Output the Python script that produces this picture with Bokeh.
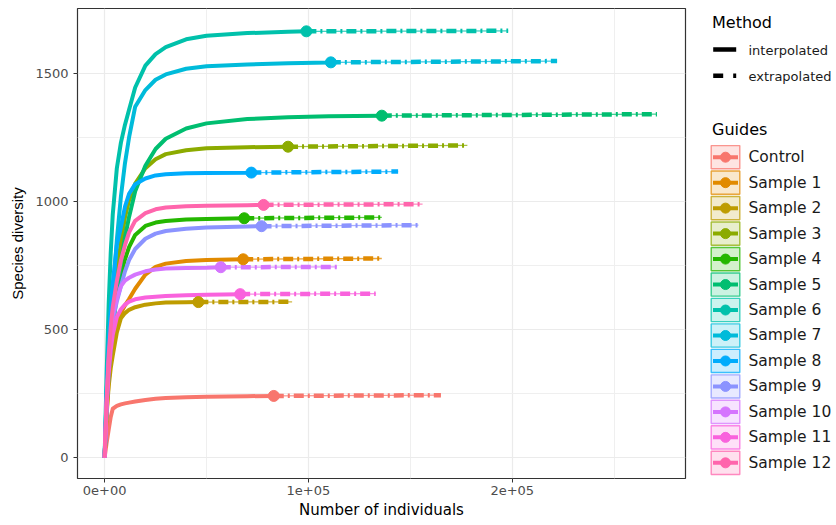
from bokeh.plotting import figure
from bokeh.models import Range1d, FixedTicker, ColumnDataSource
from bokeh.layouts import row
from bokeh.embed import file_html
from bokeh.resources import INLINE
from bokeh.core.properties import value

# ---------------- data ----------------
samples = ["Control", "Sample 1", "Sample 2", "Sample 3", "Sample 4", "Sample 5", "Sample 6",
           "Sample 7", "Sample 8", "Sample 9", "Sample 10", "Sample 11", "Sample 12"]
colors = ["#F8766D", "#E18A00", "#BE9C00", "#8CAB00", "#24B700", "#00BE70", "#00C1AB",
          "#00BBDA", "#00ACFC", "#8B93FF", "#D575FE", "#F962DD", "#FF65AC"]

# sample sizes (number of individuals) at which the interpolated curves were read
x_grid = [0, 1000, 2000, 3000, 4000, 6000, 8000, 10000, 12000, 15000, 20000, 25000,
          30000, 40000, 50000, 70000, 90000, 110000]

y_control = [1, 60, 110, 160, 192, 203, 209, 213, 216, 220, 226, 231, 234, 237, 239, 241]
y_s1 = [1, 180, 300, 380, 440, 510, 565, 595, 620, 660, 715, 745, 758, 768, 772]
y_s2 = [1, 170, 280, 350, 400, 490, 545, 565, 578, 588, 598, 603, 606, 607]
y_s3 = [1, 210, 360, 480, 570, 720, 840, 940, 1005, 1070, 1130, 1165, 1185, 1200, 1208, 1212]
y_s4 = [1, 220, 380, 490, 560, 650, 715, 775, 822, 870, 905, 918, 924, 930, 932]
y_s5 = [1, 200, 330, 430, 500, 640, 760, 860, 940, 1040, 1140, 1205, 1245, 1285, 1305, 1322, 1329, 1333]
y_s6 = [1, 330, 600, 800, 950, 1130, 1230, 1300, 1358, 1445, 1530, 1575, 1602, 1633, 1647, 1657, 1662]
y_s7 = [1, 260, 430, 560, 640, 850, 1020, 1150, 1250, 1370, 1435, 1475, 1496, 1518, 1528, 1535, 1539, 1542]
y_s8 = [1, 250, 450, 580, 680, 830, 900, 980, 1030, 1068, 1090, 1102, 1107, 1110, 1111, 1112]
y_s9 = [1, 210, 370, 470, 540, 610, 670, 728, 772, 815, 855, 875, 885, 894, 899, 903]
y_s10 = [1, 220, 380, 480, 560, 620, 670, 692, 703, 715, 728, 735, 739, 741, 742]
y_s11 = [1, 200, 330, 420, 480, 550, 580, 598, 610, 619, 626, 629, 632, 635, 637]
y_s12 = [1, 230, 400, 510, 590, 690, 770, 830, 880, 925, 955, 970, 977, 982, 984, 986]
interp_y = [y_control, y_s1, y_s2, y_s3, y_s4, y_s5, y_s6, y_s7, y_s8, y_s9, y_s10, y_s11, y_s12]

# observed (reference) sample
obs_x = [83000, 68000, 46000, 90000, 68500, 136000, 99000, 111000, 72000, 77000, 57000, 66500, 78000]
obs_y = [242, 775, 608, 1214, 935, 1335, 1664, 1543, 1113, 904, 744, 639, 987]
# end of extrapolation
end_x = [165000, 136000, 92000, 178000, 136000, 271000, 198000, 222000, 144000, 154000, 114000, 133000, 156000]
end_y = [245, 778, 609, 1219, 938, 1341, 1666, 1548, 1117, 908, 745, 641, 990]

x_ticks = [0, 100000, 200000]
x_tick_labels = ["0e+00", "1e+05", "2e+05"]
x_minor = [50000, 150000, 250000]
y_ticks = [0, 500, 1000, 1500]
y_minor = [250, 750, 1250]

method_labels = ["interpolated", "extrapolated"]

# ---------------- main panel ----------------
W_MAIN = 689
H = 524
B_TOP = 8
B_BOTTOM = 46
p = figure(width=W_MAIN, height=H, x_range=Range1d(-13300, 285000), y_range=Range1d(-80, 1753),
           output_backend="svg", toolbar_location=None,
           min_border_left=77, min_border_right=4, min_border_top=B_TOP, min_border_bottom=B_BOTTOM,
           background_fill_color="white", border_fill_color="white")
p.outline_line_color = "#333333"
p.outline_line_width = 1.2

p.xaxis.ticker = FixedTicker(ticks=x_ticks, minor_ticks=x_minor)
p.xaxis.major_label_overrides = {t: l for t, l in zip(x_ticks, x_tick_labels)}
p.yaxis.ticker = FixedTicker(ticks=y_ticks, minor_ticks=y_minor)

for ax in (p.xaxis, p.yaxis):
    ax.axis_line_color = None
    ax.major_tick_line_color = "#333333"
    ax.major_tick_out = 4
    ax.major_tick_in = 0
    ax.minor_tick_out = 0
    ax.minor_tick_in = 0
    ax.major_label_text_color = "#4D4D4D"
    ax.major_label_text_font = "DejaVu Sans"
    ax.major_label_text_font_size = "13px"
    ax.axis_label_text_font_style = "normal"
    ax.axis_label_text_color = "#000000"

p.xaxis.axis_label = "Number of individuals"
p.xaxis.axis_label_text_font = "DejaVu Sans"
p.xaxis.axis_label_text_font_size = "15px"
p.xaxis.major_label_standoff = 3
p.xaxis.axis_label_standoff = 3

p.yaxis.axis_label = "Species diversity"
p.yaxis.axis_label_text_font = "Liberation Sans"
p.yaxis.axis_label_text_font_size = "15px"
p.yaxis.major_label_standoff = 5
p.yaxis.axis_label_standoff = 6

for g in (p.xgrid, p.ygrid):
    g.grid_line_color = "#EBEBEB"
    g.grid_line_width = 1.2
    g.minor_grid_line_color = "#EFEFEF"
    g.minor_grid_line_width = 1

# thin band lines under the extrapolated dashes
for i in range(len(samples)):
    p.line([obs_x[i], end_x[i]], [obs_y[i], end_y[i]], line_color=colors[i],
           line_width=1.3, line_alpha=0.75)

# interpolated + extrapolated lines
for i in range(len(samples)):
    xs = [x for x in x_grid[:len(interp_y[i])] if x < obs_x[i]]
    ys = interp_y[i][:len(xs)]
    p.line(xs + [obs_x[i]], ys + [obs_y[i]], line_color=colors[i], line_width=4,
           line_join="round", line_cap="butt")
    p.line([obs_x[i], end_x[i]], [obs_y[i], end_y[i]], line_color=colors[i], line_width=4.5,
           line_dash="10 4 2 4", line_cap="butt")

# observed points
p.scatter(obs_x, obs_y, marker="circle", size=11, fill_color=colors, line_color=colors)

# ---------------- legend panel (coordinates = page pixels) ----------------
L = 835 - W_MAIN
lg = figure(width=L, height=H, x_range=Range1d(0, L), y_range=Range1d(H - B_BOTTOM, B_TOP),
            output_backend="svg", toolbar_location=None,
            min_border_left=0, min_border_right=0, min_border_top=B_TOP, min_border_bottom=B_BOTTOM,
            x_axis_type=None, y_axis_type=None, outline_line_color=None,
            background_fill_color="white", border_fill_color="white")
lg.xgrid.visible = False
lg.ygrid.visible = False

title_font = value("DejaVu Sans")
lg.text(x=[22.5, 22.5], y=[22, 129], text=["Method", "Guides"], text_font=title_font,
        text_font_size="16px", text_color="#000000", text_baseline="middle", text_align="left")

# method keys
m_y = [49, 75.3]
lg.line([23.7, 46.7], [m_y[0], m_y[0]], line_color="black", line_width=4.5, line_cap="butt")
lg.line([23.7, 46.7], [m_y[1], m_y[1]], line_color="black", line_width=4.5, line_cap="butt",
        line_dash="10 10")
lg.text(x=[59, 59], y=[my + 1 for my in m_y], text=method_labels, text_font=value("DejaVu Sans"),
        text_font_size="13px", text_color="#1A1A1A", text_baseline="middle", text_align="left")

# guide keys
cy = [156.7 + 25.47 * i for i in range(len(samples))]
src = ColumnDataSource(dict(cy=cy, top=[c - 11.6 for c in cy], bottom=[c + 11.6 for c in cy],
                            color=colors, label=samples))
lg.quad(left=21.7, right=50.3, top="top", bottom="bottom", source=src, fill_color="color",
        fill_alpha=0.2, line_color="color", line_alpha=0.75, line_width=1.4)
lg.segment(x0=23.5, x1=48.5, y0="cy", y1="cy", source=src, line_color="color", line_width=4,
           line_cap="butt")
lg.scatter(x=36, y="cy", source=src, marker="circle", size=10, fill_color="color",
           line_color="color")
lg.text(x=59, y="cy", text="label", source=src, text_font=value("DejaVu Sans"),
        text_font_size="15.5px", text_color="#1A1A1A", text_baseline="middle", text_align="left")

layout = row(p, lg)
open("out.html", "w").write(file_html(layout, INLINE))
